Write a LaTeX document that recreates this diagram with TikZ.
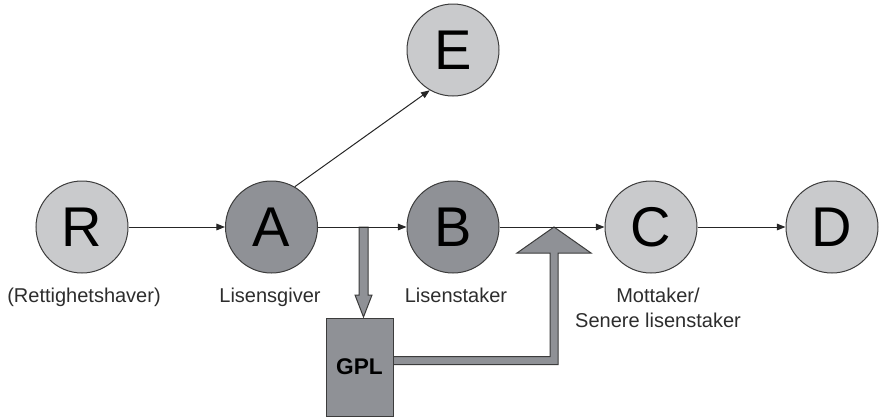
\documentclass[tikz,border=0pt]{standalone}
\usepackage{fontspec}
\setmainfont{Liberation Sans}
\usetikzlibrary{arrows.meta}
\definecolor{partylight}{RGB}{201,202,204}
\definecolor{partydark}{RGB}{143,145,150}
\definecolor{edge}{RGB}{60,60,60}
\definecolor{roletext}{RGB}{45,45,45}
\begin{document}
\begin{tikzpicture}[x=0.75pt,y=-0.75pt,
    party/.style={circle,draw=edge,line width=0.75pt,minimum size=69pt,inner sep=0pt,
      font=\fontsize{42}{42}\selectfont},
    lightparty/.style={party,fill=partylight},
    darkparty/.style={party,fill=partydark},
    role/.style={font=\fontsize{15}{18.75}\selectfont,text=roletext,align=center,anchor=base,inner sep=0pt},
    flow/.style={-{Triangle[length=6.5pt,width=5pt]},line width=0.75pt,draw=black!85},
    blockarrow/.style={fill=partydark,draw=edge,line width=0.75pt,line join=miter},
    licencebox/.style={rectangle,fill=partydark,draw=edge,line width=0.75pt,
      minimum width=50.25pt,minimum height=73.5pt,font=\fontsize{17}{17}\selectfont\bfseries}]
  \useasboundingbox (0,0) rectangle (879,418);
  % parties in the chain
  \node[lightparty] (R) at (82,227) {R};
  \node[darkparty]  (A) at (271.5,227) {A};
  \node[darkparty]  (B) at (453,227) {B};
  \node[lightparty] (C) at (651,227) {C};
  \node[lightparty] (D) at (832,227) {D};
  \node[lightparty] (E) at (453,50) {E};
  % roles under the circles (base = last line)
  \node[role] (Rrole) at (84,302) {(Rettighetshaver)};
  \node[role] (Arole) at (270,302) {Lisensgiver};
  \node[role] (Brole) at (456,302) {Lisenstaker};
  \node[role] (Crole) at (658,327) {Mottaker/\\Senere lisenstaker};
  % where the licence leaves and joins the chain
  \coordinate (tap) at (363.5,227);
  \coordinate (join) at (554,227);
  % hollow arrow down into the licence
  \filldraw[blockarrow] (tap) ++(-4.5,0) -- ++(0,68) -- ++(-4,0) -- ++(8.5,22)
    -- ++(8.5,-22) -- ++(-4,0) -- ++(0,-68) -- cycle;
  % hollow arrow from the licence up to the B--C line
  \filldraw[blockarrow] (join) -- ++(37,26) -- ++(-33,0) -- ++(0,111.5) -- ++(-165,0)
    -- ++(0,-8) -- ++(157,0) -- ++(0,-103.5) -- ++(-33,0) -- cycle;
  \node[licencebox] (gpl) at (359.5,367) {GPL};
  % transfers
  \draw[flow] (R) -- (A);
  \draw[flow] (A) -- (B);
  \draw[flow] (B) -- (C);
  \draw[flow] (C) -- (D);
  \draw[flow] (A.60) -- (E.240);
\end{tikzpicture}
\end{document}
